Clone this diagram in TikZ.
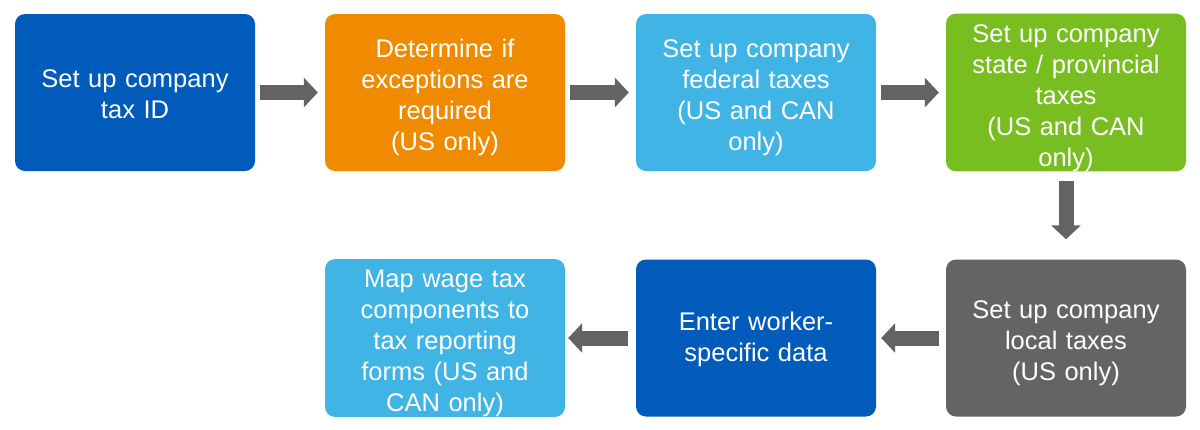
\documentclass[tikz,border=0pt]{standalone}
\usepackage{fontspec}
\setmainfont{Liberation Sans}
\usetikzlibrary{arrows.meta}
\definecolor{dblue}{RGB}{0,91,187}
\definecolor{orng}{RGB}{240,139,0}
\definecolor{lblue}{RGB}{65,180,230}
\definecolor{grn}{RGB}{120,190,32}
\definecolor{gbox}{RGB}{100,100,100}
\definecolor{garr}{RGB}{99,99,99}
\tikzset{
  firsth/.store in=\firsth, firsth=28.5pt,
  stepbox/.style={rectangle, rounded corners=10pt, minimum width=240pt, minimum height=157pt,
    inner sep=0pt, text width=225pt, align=center, text=white,
    execute at begin node={\rule{0pt}{\firsth}},
    font=\fontsize{25.5pt}{31pt}\selectfont},
  shortbox/.style={stepbox, firsth=22pt},
  blockarrow/.style={draw=garr, line width=15pt, line cap=butt,
    -{Triangle[width=29pt,length=14pt]}}
}
\begin{document}
\begin{tikzpicture}[x=1pt,y=-1pt]
\useasboundingbox (0,0) rectangle (1200,429);
\node[shortbox, fill=dblue] (b1) at (135,92.5) {Set up company\\tax ID};
\node[stepbox, fill=orng] (b2) at (445,92.5) {Determine if\\exceptions are\\required\\(US only)};
\node[stepbox, fill=lblue] (b3) at (756,92.5) {Set up company\\federal taxes\\(US and CAN\\only)};
\node[stepbox, fill=grn] (b4) at (1066,92.5) {Set up company\\state / provincial\\taxes\\(US and CAN\\only)};
\node[stepbox, fill=gbox] (b5) at (1066,338) {Set up company\\local taxes\\(US only)};
\node[shortbox, fill=dblue] (b6) at (756,338) {Enter worker-\\specific data};
\node[stepbox, fill=lblue] (b7) at (445,338) {Map wage tax\\components to\\tax reporting\\forms (US and\\CAN only)};
\draw[blockarrow, shorten <=5pt, shorten >=7pt] (b1.east) -- (b2.west);
\draw[blockarrow, shorten <=5pt, shorten >=7pt] (b2.east) -- (b3.west);
\draw[blockarrow, shorten <=5pt, shorten >=7pt] (b3.east) -- (b4.west);
\draw[blockarrow, shorten <=9pt, shorten >=20pt] (b4.south) -- (b5.north);
\draw[blockarrow, shorten <=7pt, shorten >=5pt] (b5.west) -- (b6.east);
\draw[blockarrow, shorten <=8pt, shorten >=3pt] (b6.west) -- (b7.east);
\end{tikzpicture}
\end{document}
